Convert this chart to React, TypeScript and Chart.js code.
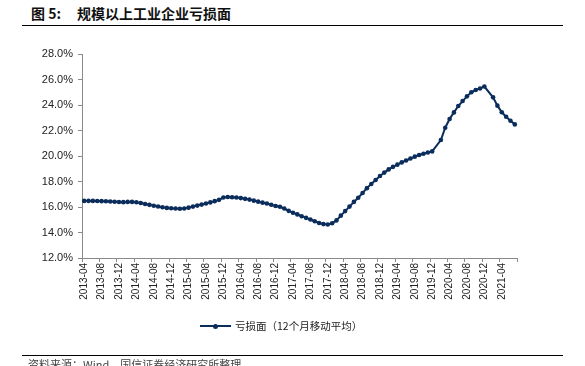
import React, { useEffect, useRef } from 'react';
import { Chart, registerables } from 'chart.js';

Chart.register(...registerables);

// ---- data ----
const startYear = 2013;
const startMonth = 4;
const monthCount = 100; // 2013-04 .. 2021-07
const months: string[] = [];
for (let k = 0; k < monthCount; k++) {
  const m0 = startMonth - 1 + k;
  const y = startYear + Math.floor(m0 / 12);
  const m = (m0 % 12) + 1;
  months.push(`${y}-${m < 10 ? '0' + m : m}`);
}

const seriesName = '亏损面（12个月移动平均）';

// loss ratio (%), 12-month moving average, monthly from 2013-04
const lossRatio: (number | null)[] = [
  16.48, 16.48, 16.48, 16.47, 16.46, 16.45, 16.43, 16.41, 16.39, // 2013-04..12
  16.38, 16.40, 16.40, 16.37, 16.31, 16.24, 16.17, 16.10, 16.04, 15.98, 15.93, 15.90, // 2014
  15.88, 15.86, 15.88, 15.95, 16.03, 16.11, 16.19, 16.27, 16.36, 16.46, 16.56, 16.74, // 2015
  16.78, 16.77, 16.74, 16.70, 16.64, 16.58, 16.50, 16.42, 16.34, 16.27, 16.18, 16.08, // 2016
  16.02, 15.88, 15.70, 15.55, 15.42, 15.28, 15.15, 15.02, 14.88, 14.75, 14.66, 14.63, // 2017
  14.72, 14.95, 15.32, 15.68, 16.03, 16.40, 16.72, 17.10, 17.48, 17.80, 18.12, 18.43, // 2018
  18.70, 18.95, 19.15, 19.32, 19.50, 19.65, 19.80, 19.95, 20.08, 20.18, 20.28, 20.36, // 2019
  null, 21.25, 22.22, 22.90, 23.42, 23.92, 24.31, 24.68, 25.00, 25.18, 25.30, 25.45, // 2020
  null, 24.60, 23.95, 23.43, 23.08, 22.77, 22.48, // 2021-01..07
];

const yMin = 12;
const yMax = 28;
const yStep = 2;
const labelEvery = 4;

const LINE_COLOR = '#0b2d5b';
const AXIS_COLOR = '#8a8a8a';
const FONT = '"Liberation Sans", Arial, sans-serif';
const CJK = '"Noto Sans CJK SC", "Noto Sans", sans-serif';

export default function App() {
  const ref = useRef<HTMLCanvasElement>(null);

  useEffect(() => {
    const chart = new Chart(ref.current as HTMLCanvasElement, {
      type: 'line',
      data: {
        labels: months,
        datasets: [
          {
            label: seriesName,
            data: lossRatio,
            borderColor: LINE_COLOR,
            backgroundColor: LINE_COLOR,
            borderWidth: 2,
            pointRadius: 2.3,
            pointBorderWidth: 0,
            pointBackgroundColor: LINE_COLOR,
            pointHoverRadius: 0,
            spanGaps: true,
            tension: 0,
          },
        ],
      },
      options: {
        animation: false,
        responsive: false,
        maintainAspectRatio: false,
        events: [],
        layout: { padding: { left: 0, top: 54, right: 68, bottom: 58 } },
        plugins: {
          legend: { display: false },
          tooltip: { enabled: false },
          title: { display: false },
        },
        scales: {
          x: {
            type: 'category',
            offset: true,
            grid: {
              offset: true,
              drawOnChartArea: false,
              drawTicks: true,
              tickLength: 4,
              color: (ctx: any) =>
                ctx.index === undefined || ctx.index % labelEvery === 0 ? AXIS_COLOR : 'rgba(0,0,0,0)',
            },
            border: { display: true, color: AXIS_COLOR, width: 1 },
            ticks: {
              autoSkip: false,
              minRotation: 90,
              maxRotation: 90,
              padding: 1,
              color: '#222',
              font: { family: FONT, size: 10 },
              callback: (_v: any, i: number) => (i % labelEvery === 0 ? months[i] : ''),
            },
            afterFit: (s: any) => {
              s.height = 50;
            },
          },
          y: {
            min: yMin,
            max: yMax,
            grid: {
              drawOnChartArea: false,
              drawTicks: true,
              tickLength: 4,
              color: AXIS_COLOR,
            },
            border: { display: true, color: AXIS_COLOR, width: 1 },
            ticks: {
              stepSize: yStep,
              padding: 5,
              color: '#222',
              font: { family: FONT, size: 11 },
              callback: (v: any) => Number(v).toFixed(1) + '%',
            },
            afterFit: (s: any) => {
              s.width = 82;
            },
          },
        },
      },
    });
    return () => chart.destroy();
  }, []);

  return (
    <div
      style={{
        position: 'fixed',
        left: 0,
        top: 0,
        width: 585,
        height: 366,
        background: '#fff',
        overflow: 'hidden',
      }}
    >
      <div
        style={{
          position: 'absolute',
          left: 31,
          top: 5,
          fontFamily: CJK,
          fontWeight: 'bold',
          fontSize: 14,
          lineHeight: '16px',
          color: '#111',
          whiteSpace: 'nowrap',
        }}
      >
        图 5:
      </div>
      <div
        style={{
          position: 'absolute',
          left: 77,
          top: 5,
          fontFamily: CJK,
          fontWeight: 'bold',
          fontSize: 14,
          lineHeight: '16px',
          color: '#111',
          whiteSpace: 'nowrap',
        }}
      >
        规模以上工业企业亏损面
      </div>
      <div style={{ position: 'absolute', left: 22, top: 25, width: 541, height: 1, background: '#000' }} />
      <canvas ref={ref} width={585} height={366} style={{ position: 'absolute', left: 0, top: 0 }} />
      {/* legend */}
      <div style={{ position: 'absolute', left: 200, top: 325, width: 31, height: 2, background: LINE_COLOR }} />
      <div
        style={{
          position: 'absolute',
          left: 213,
          top: 323.5,
          width: 5,
          height: 5,
          borderRadius: '50%',
          background: LINE_COLOR,
        }}
      />
      <div
        style={{
          position: 'absolute',
          left: 235,
          top: 319,
          fontFamily: CJK,
          fontSize: 10.5,
          lineHeight: '14px',
          color: '#222',
          whiteSpace: 'nowrap',
        }}
      >
        {seriesName}
      </div>
      <div style={{ position: 'absolute', left: 22, top: 355, width: 541, height: 1, background: '#000' }} />
      <div
        style={{
          position: 'absolute',
          left: 28,
          top: 357,
          fontFamily: CJK,
          fontSize: 11,
          lineHeight: '14px',
          color: '#444',
          whiteSpace: 'nowrap',
        }}
      >
        资料来源：Wind，国信证券经济研究所整理
      </div>
    </div>
  );
}
